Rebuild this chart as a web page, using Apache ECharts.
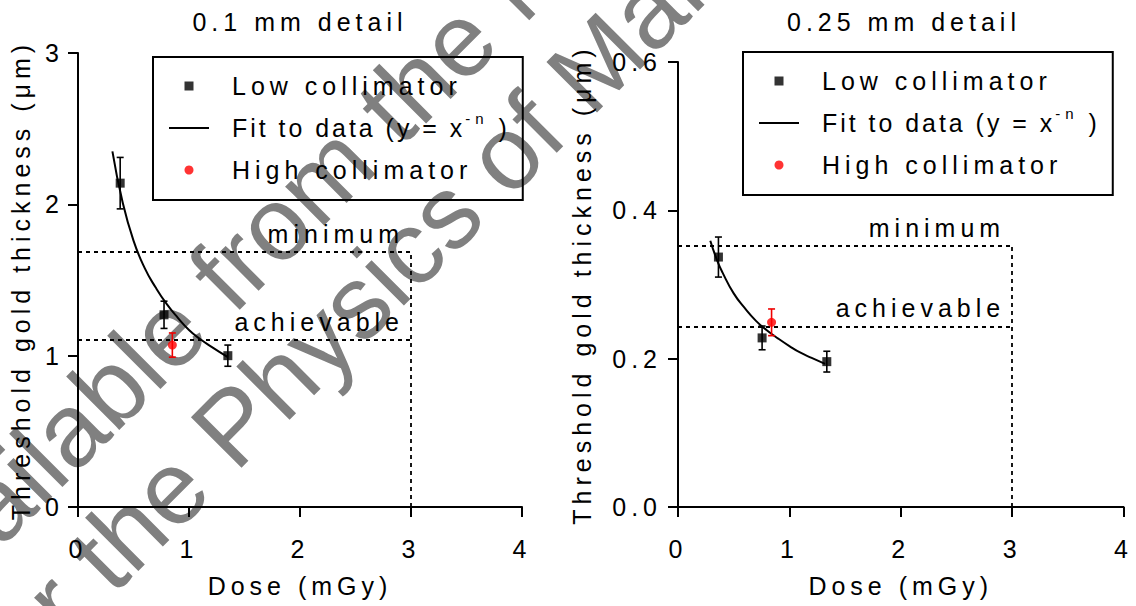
<!DOCTYPE html>
<html>
<head>
<meta charset="utf-8">
<style>
html,body{margin:0;padding:0;background:#ffffff;}
#chart{width:1136px;height:606px;}
#chart text{letter-spacing:5px;}
#chart text[style*="24.9px"]{letter-spacing:3px;}
#chart text[style*="104px"]{letter-spacing:0;}
</style>
<script src="https://cdn.jsdelivr.net/npm/echarts@6/dist/echarts.min.js"></script>
</head>
<body>
<div id="chart"></div>
<script>
// ---------------- data ----------------
const xTickValues = [0, 1, 2, 3, 4];
const yTicksLeft = [0, 1, 2, 3];
const yTicksRight = [0, 0.2, 0.4, 0.6];
const panelTitles = ['0.1 mm detail', '0.25 mm detail'];
const xAxisName = 'Dose (mGy)';
const yAxisName = 'Threshold gold thickness (μm)';
const seriesNames = ['Low collimator', 'Fit to data (y = x⁻ⁿ)', 'High collimator'];
const guideNames = ['minimum', 'achievable'];
const watermarkLines = ['Available from the National Coordinating Centre', 'for the Physics of Mammography'];

// 0.1 mm detail
const lowDose01 = [0.38, 0.775, 1.35];
const lowThick01 = [2.14, 1.27, 1.00];
const lowErr01 = [0.17, 0.09, 0.07];
const highDose01 = [0.85];
const highThick01 = [1.07];
const highErr01 = [0.08];
const fitDose01 = [0.31, 0.4, 0.5, 0.6, 0.7, 0.8, 0.9, 1.0, 1.1, 1.2, 1.35];
const fitThick01 = [2.35, 2.02, 1.76, 1.58, 1.45, 1.34, 1.25, 1.17, 1.11, 1.06, 0.99];
const minimum01 = 1.686;
const achievable01 = 1.105;

// 0.25 mm detail
const lowDose025 = [0.363, 0.755, 1.336];
const lowThick025 = [0.337, 0.228, 0.196];
const lowErr025 = [0.027, 0.016, 0.014];
const highDose025 = [0.84];
const highThick025 = [0.249];
const highErr025 = [0.018];
const fitDose025 = [0.29, 0.35, 0.4, 0.5, 0.6, 0.7, 0.8, 0.9, 1.0, 1.1, 1.2, 1.32];
const fitThick025 = [0.359, 0.333, 0.316, 0.288, 0.268, 0.251, 0.238, 0.227, 0.217, 0.208, 0.201, 0.193];
const minimum025 = 0.3525;
const achievable025 = 0.2434;

const targetDose = 3;

// ---------------- text measuring with letter spacing ----------------
function spacingFor(font) {
  font = font || '';
  if (/104px/.test(font)) return 0;
  if (/24\.9px/.test(font)) return 3;
  return 5;
}
const _mctx = document.createElement('canvas').getContext('2d');
echarts.setPlatformAPI({
  measureText: function (text, font) {
    _mctx.font = font || '12px sans-serif';
    const s = String(text == null ? '' : text);
    const m = _mctx.measureText(s);
    const extra = spacingFor(font) * Array.from(s).length;
    return {
      width: m.width + extra,
      actualBoundingBoxAscent: m.actualBoundingBoxAscent,
      actualBoundingBoxDescent: m.actualBoundingBoxDescent,
      actualBoundingBoxLeft: m.actualBoundingBoxLeft,
      actualBoundingBoxRight: m.actualBoundingBoxRight + extra,
      fontBoundingBoxAscent: m.fontBoundingBoxAscent,
      fontBoundingBoxDescent: m.fontBoundingBoxDescent
    };
  }
});

// ---------------- chart ----------------
const FONT = "'Liberation Sans', Arial, sans-serif";
const FS = 25;
const txt = { fontFamily: FONT, fontSize: FS, color: '#000', fontWeight: 'normal' };

const zip = (a, b) => a.map((v, i) => [v, b[i]]);
const errData = (x, y, e) => x.map((v, i) => [v, y[i] - e[i], y[i] + e[i]]);

function errRender(params, api) {
  const x = api.value(0), lo = api.value(1), hi = api.value(2);
  const top = api.coord([x, hi]);
  const bot = api.coord([x, lo]);
  const c = api.visual('color');
  const hw = 3.5;
  const st = { stroke: c, lineWidth: 1.6 };
  return {
    type: 'group',
    children: [
      { type: 'line', shape: { x1: top[0], y1: top[1], x2: bot[0], y2: bot[1] }, style: st },
      { type: 'line', shape: { x1: top[0] - hw, y1: top[1], x2: top[0] + hw, y2: top[1] }, style: st },
      { type: 'line', shape: { x1: bot[0] - hw, y1: bot[1], x2: bot[0] + hw, y2: bot[1] }, style: st }
    ]
  };
}

function xAxisCfg(gi) {
  return {
    type: 'value', gridIndex: gi,
    min: xTickValues[0], max: xTickValues[xTickValues.length - 1], interval: xTickValues[1] - xTickValues[0],
    name: xAxisName, nameLocation: 'middle', nameGap: 64, nameTextStyle: txt,
    axisLine: { show: true, onZero: false, lineStyle: { color: '#000', width: 2 } },
    axisTick: { show: true, inside: false, length: 10, lineStyle: { color: '#000', width: 2 } },
    axisLabel: Object.assign({ margin: 27 }, txt),
    splitLine: { show: false }
  };
}
function yAxisCfg(gi, ticks, gap, margin, dec) {
  return {
    type: 'value', gridIndex: gi,
    min: ticks[0], max: ticks[ticks.length - 1], interval: ticks[1] - ticks[0],
    name: yAxisName, nameLocation: 'middle', nameRotate: 90, nameGap: gap, nameTextStyle: txt,
    axisLine: { show: true, onZero: false, lineStyle: { color: '#000', width: 2 } },
    axisTick: { show: true, inside: false, length: 10, lineStyle: { color: '#000', width: 2 } },
    axisLabel: Object.assign({ margin: margin, formatter: v => v.toFixed(dec) }, txt),
    splitLine: { show: false }
  };
}

function panelSeries(gi, d) {
  return [
    {
      name: seriesNames[1], type: 'line', xAxisIndex: gi, yAxisIndex: gi,
      data: zip(d.fitX, d.fitY), smooth: true, symbol: 'none', showSymbol: false,
      lineStyle: { color: '#000', width: 2 }, itemStyle: { color: '#000' }, z: 3,
      markLine: {
        silent: true, symbol: 'none', animation: false,
        lineStyle: { color: '#000', type: [4, 4], width: 1.8 },
        label: Object.assign({ show: true, position: 'insideEndTop', formatter: '{b}', distance: [7, 3] }, txt),
        data: [
          [{ name: guideNames[0], coord: [0, d.min] }, { coord: [targetDose, d.min] }],
          [{ name: guideNames[1], coord: [0, d.ach] }, { coord: [targetDose, d.ach] }],
          [{ name: '', coord: [targetDose, 0], label: { show: false } }, { coord: [targetDose, d.min] }]
        ]
      }
    },
    {
      name: 'Low collimator error', type: 'custom', xAxisIndex: gi, yAxisIndex: gi,
      renderItem: errRender, data: errData(d.lowX, d.lowY, d.lowE),
      encode: { x: 0, y: [1, 2] }, itemStyle: { color: '#000' }, z: 4
    },
    {
      name: 'High collimator error', type: 'custom', xAxisIndex: gi, yAxisIndex: gi,
      renderItem: errRender, data: errData(d.highX, d.highY, d.highE),
      encode: { x: 0, y: [1, 2] }, itemStyle: { color: '#ee0000' }, z: 4
    },
    {
      name: seriesNames[0], type: 'scatter', xAxisIndex: gi, yAxisIndex: gi,
      data: zip(d.lowX, d.lowY), symbol: 'rect', symbolSize: 9,
      itemStyle: { color: '#000' }, z: 5
    },
    {
      name: seriesNames[2], type: 'scatter', xAxisIndex: gi, yAxisIndex: gi,
      data: zip(d.highX, d.highY), symbol: 'circle', symbolSize: 9,
      itemStyle: { color: '#ff0000' }, z: 5
    }
  ];
}

const p01 = { fitX: fitDose01, fitY: fitThick01, lowX: lowDose01, lowY: lowThick01, lowE: lowErr01,
  highX: highDose01, highY: highThick01, highE: highErr01, min: minimum01, ach: achievable01 };
const p025 = { fitX: fitDose025, fitY: fitThick025, lowX: lowDose025, lowY: lowThick025, lowE: lowErr025,
  highX: highDose025, highY: highThick025, highE: highErr025, min: minimum025, ach: achievable025 };

const legendCommon = {
  orient: 'vertical', selectedMode: false,
  data: [
    { name: seriesNames[0], icon: 'path://M0 0H1V1H0Z' },
    { name: seriesNames[1], icon: 'path://M0 0H40V2H0Z' },
    { name: seriesNames[2], icon: 'circle' }
  ],
  symbolKeepAspect: true,
  itemWidth: 40, itemHeight: 9, itemGap: 2,
  itemStyle: { borderWidth: 0 },
  padding: [9, 13, 10, 16], borderColor: '#000', borderWidth: 2,
  textStyle: Object.assign({}, txt, {
    lineHeight: 40, padding: [0, 0, 0, 18],
    rich: {
      fit: { fontFamily: FONT, fontSize: 24.9, color: '#000', lineHeight: 40 },
      sup: { fontFamily: FONT, fontSize: 15, color: '#000', lineHeight: 8, verticalAlign: 'top', padding: [0, 10, 0, 0] }
    }
  }),
  formatter: n => n === seriesNames[1] ? '{fit|Fit to data (y = x}{sup|-n}{fit|)}' : n
};

const WM_FONT = '104px ' + FONT;

const option = {
  animation: false,
  backgroundColor: '#ffffff',
  title: [
    { text: panelTitles[0], left: 300, top: 7, textAlign: 'center', padding: 0, textStyle: txt },
    { text: panelTitles[1], left: 904, top: 7, textAlign: 'center', padding: 0, textStyle: txt }
  ],
  legend: [
    Object.assign({}, legendCommon, { left: 153, top: 57 }),
    Object.assign({}, legendCommon, { left: 743, top: 52 })
  ],
  grid: [
    { left: 78, right: 614, top: 53, bottom: 94, containLabel: false },
    { left: 678, right: 6, top: 62, bottom: 93, containLabel: false }
  ],
  xAxis: [xAxisCfg(0), xAxisCfg(1)],
  yAxis: [yAxisCfg(0, yTicksLeft, 42, 14, 0), yAxisCfg(1, yTicksRight, 81, 16, 1)],
  graphic: [
    { type: 'text', x: -73, y: 645, rotation: Math.PI / 4, z: -1, silent: true,
      style: { text: watermarkLines[0], font: WM_FONT, fill: '#808080', align: 'left', verticalAlign: 'bottom' } },
    { type: 'text', x: 18, y: 714, rotation: Math.PI / 4, z: -1, silent: true,
      style: { text: watermarkLines[1], font: WM_FONT, fill: '#808080', align: 'left', verticalAlign: 'bottom' } }
  ],
  series: panelSeries(0, p01).concat(panelSeries(1, p025))
};

const chart = echarts.init(document.getElementById('chart'), null, { renderer: 'svg', width: 1136, height: 606 });
chart.setOption(option);
</script>
</body>
</html>
